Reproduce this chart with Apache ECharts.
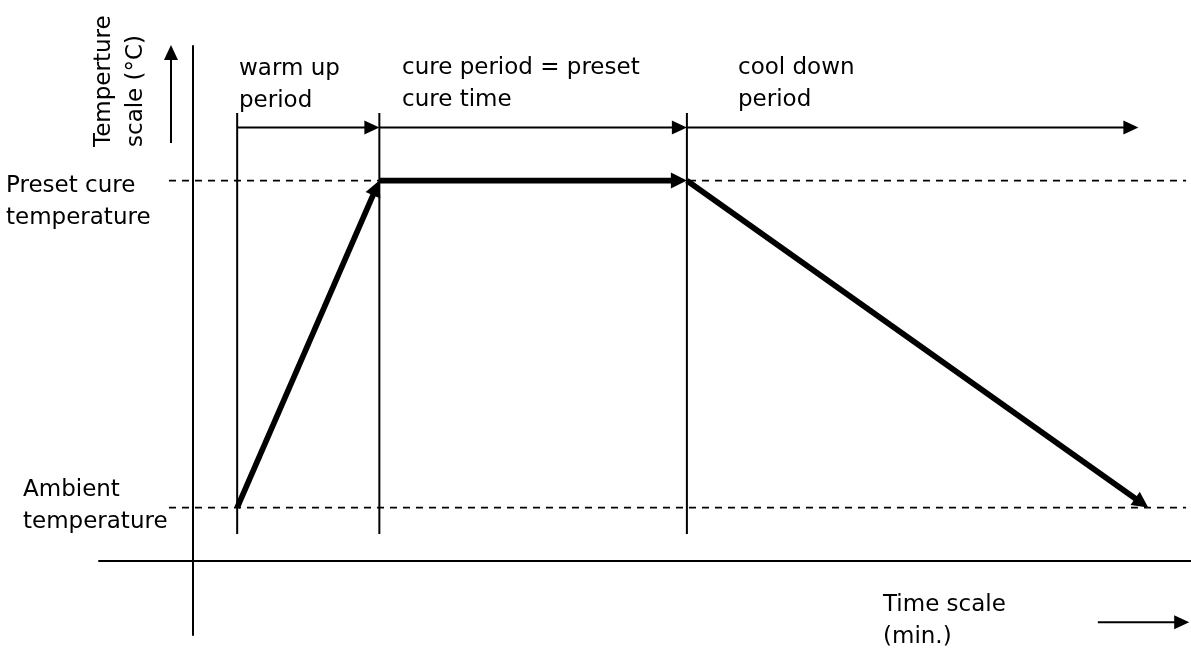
<!DOCTYPE html>
<html><head><meta charset="utf-8">
<script src="https://cdn.jsdelivr.net/npm/echarts@6/dist/echarts.min.js"></script>
<style>html,body{margin:0;padding:0;background:#fff}#c{width:1191px;height:650px}</style>
</head><body><div id="c"></div>
<script>
// ---- data (time in min, temperature in °C; schematic values) ----
const stageTimes = [10, 41.9, 110.9, 214.4];          // start warm up, start cure, start cool down, end cool down
const stageLabels = ['warm up\nperiod', 'cure period = preset\ncure time', 'cool down\nperiod'];
const ambientTemp = 20;
const presetTemp = 142.7;
const profileTemps = [ambientTemp, presetTemp, presetTemp, ambientTemp];
const levelLabels = ['Preset cure\ntemperature', 'Ambient\ntemperature'];
const yAxisTitle = 'Temperture\nscale (°C)';
const xAxisTitle = 'Time scale\n(min.)';
const xRange = [-21, 224];
const yRange = [-27.8, 193.2];
const markerTemps = [10.1, 168.1];                    // extent of the period marker lines
const periodArrowTemp = 162.6;
const periodArrowEnds = [41.9, 110.9, 212.2];
const dashTimes = [-5.3, 222.9];
const upArrowTime = -4.85, upArrowTemps = [156.8, 193.6];
const rightArrowTemp = -23, rightArrowTimes = [203.1, 223.6];

// ---- segments built from the data: [x1, y1, x2, y2, kind] ----
// kinds: 0 thin line, 1 thin arrow, 2 thick arrow, 3 dashed line
const segs = [];
segs.push([dashTimes[0], presetTemp, dashTimes[1], presetTemp, 3]);
segs.push([dashTimes[0], ambientTemp, dashTimes[1], ambientTemp, 3]);
for (let i = 0; i < 3; i++) segs.push([stageTimes[i], markerTemps[0], stageTimes[i], markerTemps[1], 0]);
for (let i = 0; i < 3; i++) segs.push([stageTimes[i], periodArrowTemp, periodArrowEnds[i], periodArrowTemp, 1]);
segs.push([upArrowTime, upArrowTemps[0], upArrowTime, upArrowTemps[1], 1]);
segs.push([rightArrowTimes[0], rightArrowTemp, rightArrowTimes[1], rightArrowTemp, 1]);
for (let i = 0; i < 3; i++) segs.push([stageTimes[i], profileTemps[i], stageTimes[i + 1], profileTemps[i + 1], 2]);

const kinds = [
  {w: 2, head: null},
  {w: 2, head: [15, 14]},
  {w: 5.7, head: [16, 16]},
  {w: 1.6, head: null, dash: [7, 6]}
];

function renderSeg(params, api) {
  const p1 = api.coord([api.value(0), api.value(1)]);
  const p2 = api.coord([api.value(2), api.value(3)]);
  const k = kinds[api.value(4)];
  const children = [];
  let end = p2;
  if (k.head) {
    const dx = p2[0] - p1[0], dy = p2[1] - p1[1];
    const len = Math.hypot(dx, dy), ux = dx / len, uy = dy / len;
    const L = k.head[0], W = k.head[1];
    const bx = p2[0] - ux * L, by = p2[1] - uy * L;
    end = [p2[0] - ux * L * 0.6, p2[1] - uy * L * 0.6];
    children.push({type: 'polygon', z2: 2,
      shape: {points: [[p2[0], p2[1]], [bx - uy * W / 2, by + ux * W / 2], [bx + uy * W / 2, by - ux * W / 2]]},
      style: {fill: '#000'}});
  }
  children.unshift({type: 'line', z2: 1,
    shape: {x1: p1[0], y1: p1[1], x2: end[0], y2: end[1]},
    style: {stroke: '#000', lineWidth: k.w, lineDash: k.dash || null, fill: null}});
  return {type: 'group', children};
}

const chart = echarts.init(document.getElementById('c'), null, {renderer: 'canvas'});
const font = {fontFamily: 'DejaVu Sans', fontSize: 23, lineHeight: 32, fill: '#000'};
function txt(x, y, text, extra) {
  return Object.assign({type: 'text', x, y, style: Object.assign({text, textAlign: 'left', textVerticalAlign: 'top'}, font)}, extra || {});
}
chart.setOption({
  animation: false,
  backgroundColor: '#fff',
  grid: {left: 99, right: 0, top: 46, bottom: 15},
  xAxis: {type: 'value', min: xRange[0], max: xRange[1],
    axisLine: {show: true, onZero: true, lineStyle: {color: '#000', width: 2}},
    axisTick: {show: false}, axisLabel: {show: false}, splitLine: {show: false}},
  yAxis: {type: 'value', min: yRange[0], max: yRange[1],
    axisLine: {show: true, onZero: true, lineStyle: {color: '#000', width: 2}},
    axisTick: {show: false}, axisLabel: {show: false}, splitLine: {show: false}},
  series: [{
    type: 'custom', renderItem: renderSeg, data: segs, clip: false, silent: true,
    encode: {x: [0, 2], y: [1, 3]}
  }],
  graphic: [
    txt(88, 147, yAxisTitle, {rotation: Math.PI / 2}),
    txt(6, 170, levelLabels[0]),
    txt(23, 474, levelLabels[1]),
    txt(239, 53, stageLabels[0]),
    txt(402, 52, stageLabels[1]),
    txt(738, 52, stageLabels[2]),
    txt(883, 589, xAxisTitle)
  ]
});
</script>
</body></html>
